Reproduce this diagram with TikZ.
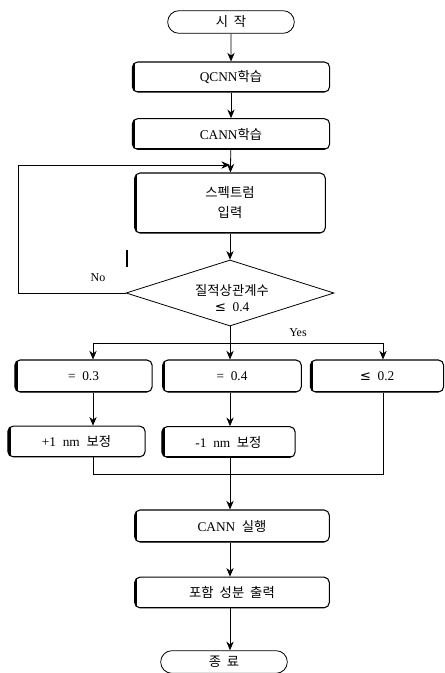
\documentclass[tikz,border=0pt]{standalone}
\usepackage{fontspec}
\setmainfont{Liberation Serif}
\newfontfamily\kr{Noto Sans CJK KR}
\newfontfamily\symfont{DejaVu Sans}
\usepackage{tikz}
\usetikzlibrary{arrows.meta,shapes,positioning}
\newcommand{\ko}[1]{{\kr #1}}
\newcommand{\lesseq}{{\symfont ≤}}
\tikzstyle{arrow} = [line width=0.6pt,->,>={Stealth[length=6.5pt,width=5.5pt]}]
\tikzstyle{line} = [line width=0.6pt]
\tikzstyle{terminal} = [rounded rectangle, draw, line width=0.6pt, minimum width=95pt, minimum height=17pt, inner sep=0pt]
\tikzstyle{proc} = [rectangle, rounded corners=4pt, draw, line width=0.8pt, fill=white, inner sep=0pt,
  path picture={\draw[line width=4pt] (path picture bounding box.north west) -- (path picture bounding box.south west);
    \draw[line width=1.6pt] (path picture bounding box.south west) -- (path picture bounding box.south east);}]
\tikzstyle{decision} = [diamond, draw, line width=0.6pt, aspect=3.2, inner sep=0pt, minimum width=156pt, minimum height=49.5pt]

\begin{document}
\begin{tikzpicture}[x=0.75pt, y=-0.75pt]
\useasboundingbox (0,0) rectangle (444,673);
% main column
\node[terminal] (start) at (231,22) {\ko{시 \ 작}};
\node[proc, minimum width=148pt, minimum height=22.5pt] (qcnn) at (231,77) {QCNN\ko{학습}};
\node[proc, minimum width=148pt, minimum height=23pt] (cann) at (231,134) {CANN\ko{학습}};
\node[proc, minimum width=143pt, minimum height=45pt, align=center] (spec) at (230,203) {\ko{스펙트럼}\\[3pt]\ko{입력}};
\node[decision] (dec) at (230,293) {};
\node[align=center] (dectxt) at (232,298) {\ko{질적상관계수}\\[0pt]\lesseq\ \ 0.4};

\draw[arrow] (start) -- (qcnn);
\draw[arrow] (qcnn) -- (cann);
\draw[arrow] (cann) -- (spec);
\draw[arrow] (spec) -- (dec);

% feedback
\coordinate (back) at (230,165);
\draw[arrow] (dec.west) -- ++(-107,0) |- (back);
\node[font=\small] (no) at (98,278) {No};
\coordinate (tick) at (127,250);
\draw[line width=1pt] (tick) -- ++(0,17);

% branches
\node[font=\small] (yes) at (298,333) {Yes};
\node[proc, minimum width=103pt, minimum height=24pt] (eq3) at (83.5,376) {= \ 0.3};
\node[proc, minimum width=104pt, minimum height=24pt] (eq4) at (232,376) {= \ 0.4};
\node[proc, minimum width=100pt, minimum height=24pt] (le2) at (377,376) {\lesseq\ \ 0.2};
\coordinate (s1) at (93,343);
\coordinate (s3) at (383,343);
\draw[line] (s1) -- (s3);
\draw[arrow] (dec.south) -- (eq4.north -| dec.south);
\draw[arrow] (s1) -- (eq3.north -| s1);
\draw[arrow] (s3) -- (le2.north -| s3);

\node[proc, minimum width=103pt, minimum height=23pt] (plus) at (76.5,441.5) {+1 \ nm \ \ko{보정}};
\node[proc, minimum width=100pt, minimum height=23pt] (minus) at (228.5,442) {-1 \ nm \ \ko{보정}};
\draw[arrow] (eq3.south -| s1) -- (plus.north -| s1);
\draw[arrow] (eq4.south -| dec.south) -- (minus.north -| dec.south);

% merge
\node[proc, minimum width=146pt, minimum height=24pt] (run) at (232,526) {CANN \ \ko{실행}};
\coordinate (m1) at (93,474);
\coordinate (m3) at (383,474);
\draw[line] (plus.south -| s1) -- (m1) -- (m3) -- (le2.south -| s3);
\draw[arrow] (minus.south -| dec.south) -- (run.north -| dec.south);

\node[proc, minimum width=146pt, minimum height=23pt] (out) at (232,592.5) {\ko{포함 \ 성분 \ 출력}};
\node[terminal] (end) at (224,662) {\ko{종 \ 료}};
\draw[arrow] (run.south -| dec.south) -- (out.north -| dec.south);
\draw[arrow] (out.south -| dec.south) -- (end.north -| dec.south);
\end{tikzpicture}
\end{document}
